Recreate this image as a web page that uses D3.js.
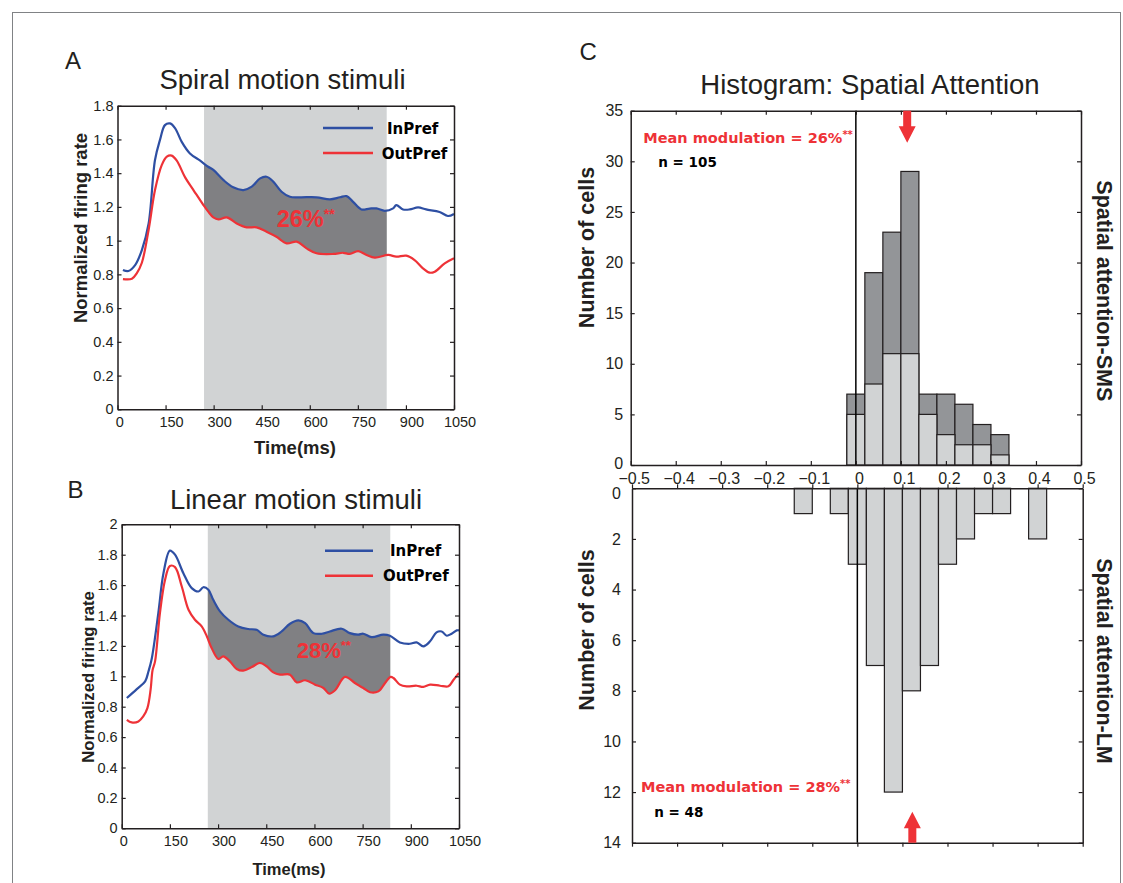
<!DOCTYPE html>
<html><head><meta charset="utf-8">
<script src="https://cdn.jsdelivr.net/npm/d3@7"></script>
<style>body{margin:0;background:#fff}svg{display:block}</style>
</head><body><svg id="c" width="1123" height="883"></svg>
<script>
// ---------- data ----------
const timeTicks = [0,150,300,450,600,750,900,1050];
const rateTicksA = [0,0.2,0.4,0.6,0.8,1,1.2,1.4,1.6,1.8];
const rateTicksB = [0,0.2,0.4,0.6,0.8,1,1.2,1.4,1.6,1.8,2];
const attnWindowA = [270,840];
const attnWindowB = [268,836];
const spiralInPref = [[17,0.826],[34,0.82],[55,0.855],[76,0.944],[97,1.10],[117,1.478],[133,1.60],[148,1.685],[164,1.695],[180,1.666],[200,1.587],[226,1.517],[258,1.474],[283,1.438],[299,1.419],[330,1.36],[361,1.316],[393,1.30],[419,1.32],[445,1.369],[465,1.379],[486,1.35],[512,1.29],[538,1.26],[569,1.257],[621,1.257],[663,1.245],[694,1.257],[715,1.264],[735,1.23],[761,1.185],[787,1.19],[808,1.191],[834,1.177],[860,1.191],[870,1.211],[891,1.185],[912,1.185],[938,1.197],[963,1.185],[1005,1.17],[1031,1.146],[1050,1.158]];
const spiralOutPref = [[17,0.772],[45,0.774],[60,0.806],[76,0.869],[97,1.063],[117,1.30],[138,1.448],[154,1.498],[169,1.504],[185,1.474],[211,1.375],[237,1.30],[268,1.211],[283,1.172],[299,1.138],[315,1.126],[341,1.138],[372,1.102],[403,1.079],[434,1.079],[465,1.053],[496,1.023],[528,0.984],[559,0.994],[590,0.954],[621,0.925],[673,0.921],[704,0.928],[725,0.921],[751,0.938],[777,0.915],[803,0.899],[845,0.915],[870,0.905],[901,0.911],[927,0.885],[953,0.836],[974,0.81],[990,0.816],[1021,0.865],[1050,0.895]];
const linearInPref = [[16,0.857],[47,0.916],[73,0.967],[83,1.03],[93,1.11],[114,1.416],[130,1.678],[150,1.827],[166,1.80],[192,1.678],[218,1.58],[239,1.558],[254,1.586],[270,1.569],[285,1.503],[306,1.427],[332,1.372],[363,1.328],[394,1.311],[420,1.306],[441,1.274],[472,1.263],[498,1.295],[524,1.346],[550,1.368],[571,1.35],[597,1.284],[623,1.28],[648,1.295],[685,1.313],[710,1.284],[736,1.274],[752,1.28],[778,1.258],[814,1.274],[835,1.267],[866,1.223],[897,1.214],[918,1.223],[939,1.197],[960,1.23],[980,1.289],[996,1.295],[1012,1.267],[1027,1.28],[1043,1.302],[1050,1.302]];
const linearOutPref = [[16,0.714],[31,0.697],[52,0.703],[67,0.736],[80,0.791],[90,0.912],[96,1.04],[104,1.10],[119,1.416],[135,1.635],[150,1.726],[166,1.718],[187,1.591],[208,1.438],[228,1.372],[249,1.328],[265,1.263],[280,1.186],[301,1.114],[316,1.131],[337,1.098],[358,1.048],[378,1.037],[405,1.061],[430,1.088],[451,1.066],[472,1.026],[493,1.011],[524,1.011],[545,0.96],[571,0.974],[602,0.945],[628,0.923],[646,0.886],[664,0.908],[695,0.996],[726,0.956],[752,0.923],[773,0.895],[799,0.901],[820,0.956],[837,0.996],[846,0.989],[866,0.945],[887,0.934],[918,0.938],[939,0.930],[960,0.945],[991,0.938],[1017,0.934],[1032,0.974],[1050,1.022]];
const seriesNames = ["InPref","OutPref"];
const spiralEffect = "26%";
const linearEffect = "28%";

const modTicks = [-0.5,-0.4,-0.3,-0.2,-0.1,0,0.1,0.2,0.3,0.4,0.5];
const smsCountTicks = [0,5,10,15,20,25,30,35];
const lmCountTicks = [0,2,4,6,8,10,12,14];
const binWidth = 0.04;
const smsBinCenters = [0,0.04,0.08,0.12,0.16,0.20,0.24,0.28,0.32];
const smsTotal      = [7,19,23,29,7,7,6,4,3];
const smsSubset     = [5,8,11,11,5,3,2,2,1];
const lmBinCenters  = [-0.12,-0.04,0,0.04,0.08,0.12,0.16,0.20,0.24,0.28,0.32,0.40];
const lmCounts      = [1,1,3,7,12,8,7,3,2,1,1,2];
const smsMeanArrow = 0.114;
const lmMeanArrow = 0.122;

// ---------- drawing ----------
const svg = d3.select("#c");
const INK = "#231f20", BLUE = "#2e4fa3", RED = "#ee3237";
const SANS = "'Liberation Sans', Arial, sans-serif";
const HEAVY = "'DejaVu Sans', sans-serif";

svg.append("rect").attr("x",12.5).attr("y",12.5).attr("width",1108).attr("height",900)
  .attr("fill","none").attr("stroke","#808285").attr("stroke-width",1);

function styleAxis(g, fs){
  g.attr("font-family",SANS).attr("font-size",fs);
  g.selectAll(".domain").attr("stroke",INK).attr("stroke-width",1.5);
  g.selectAll(".tick line").attr("stroke",INK).attr("stroke-width",1.2);
  g.selectAll(".tick text").attr("fill",INK);
}
function boxAxes(g, x, y, xt, yt, opts){
  const [x0,x1] = x.range(), [y0,y1] = y.range();
  const fs = opts.fs;
  const b = g.append("g").attr("transform",`translate(0,${y0})`)
    .call(d3.axisBottom(x).tickValues(xt).tickSize(-4).tickSizeOuter(0).tickPadding(opts.bPad)
      .tickFormat(opts.xLabels ? d3.format("~g") : ""));
  styleAxis(b, fs);
  b.selectAll(".tick text").attr("dx", opts.xdx || 0);
  const t = g.append("g").attr("transform",`translate(0,${y1})`)
    .call(d3.axisTop(x).tickValues(xt).tickSize(-4).tickSizeOuter(0).tickFormat(""));
  styleAxis(t, fs);
  const l = g.append("g").attr("transform",`translate(${x0},0)`)
    .call(d3.axisLeft(y).tickValues(yt).tickSize(-4).tickSizeOuter(0).tickPadding(opts.lPad).tickFormat(d3.format("~g")));
  styleAxis(l, fs);
  const r = g.append("g").attr("transform",`translate(${x1},0)`)
    .call(d3.axisRight(y).tickValues(yt).tickSize(-4).tickSizeOuter(0).tickFormat(""));
  styleAxis(r, fs);
  return {b, l};
}

function text(x,y,str,o){
  const t = svg.append("text").attr("x",x).attr("y",y).text(str)
    .attr("font-family",o.ff||SANS).attr("font-size",o.fs).attr("fill",o.fill||INK)
    .attr("font-weight",o.fw||"normal").attr("text-anchor",o.anchor||"start");
  return t;
}
function vtext(cx,cy,str,o,rot){
  svg.append("text").attr("transform",`translate(${cx},${cy}) rotate(${rot})`)
    .attr("text-anchor","middle").attr("dy","0.36em").text(str)
    .attr("font-family",o.ff||SANS).attr("font-size",o.fs).attr("font-weight",o.fw||"bold").attr("fill",INK);
}

function linePanel(cfg){
  const x = d3.scaleLinear().domain([0,1050]).range(cfg.xr);
  const y = d3.scaleLinear().domain([0,cfg.ymax]).range(cfg.yr);
  const g = svg.append("g");
  const id = "clip"+cfg.key;
  g.append("rect").attr("x",x(cfg.win[0])).attr("y",y(cfg.ymax))
    .attr("width",x(cfg.win[1])-x(cfg.win[0])).attr("height",y(0)-y(cfg.ymax)).attr("fill","#d1d3d4");
  const line = d3.line().x(d=>x(d[0])).y(d=>y(d[1])).curve(d3.curveCatmullRom.alpha(0.5));
  svg.append("clipPath").attr("id",id).append("rect")
    .attr("x",x(cfg.win[0])).attr("y",y(cfg.ymax)).attr("width",x(cfg.win[1])-x(cfg.win[0])).attr("height",y(0)-y(cfg.ymax));
  const upper = line(cfg.inP);
  const lower = line(cfg.outP.slice().reverse()).replace(/^M/,"L");
  g.append("path").attr("d",upper+lower+"Z").attr("fill","#808083").attr("clip-path",`url(#${id})`);
  g.append("path").attr("d",line(cfg.inP)).attr("fill","none").attr("stroke",BLUE).attr("stroke-width",2.2);
  g.append("path").attr("d",line(cfg.outP)).attr("fill","none").attr("stroke",RED).attr("stroke-width",2.2);
  const ax = boxAxes(g, x, y, timeTicks, cfg.yt, {fs:14.5, bPad:7, lPad:4, xLabels:true, xdx:5.5});
  ax.b.selectAll(".tick text").filter(d=>d===0).attr("dx",1.7);
  const L = cfg.leg;
  [[BLUE,seriesNames[0],L.y1,L.t1],[RED,seriesNames[1],L.y2,L.t2]].forEach(([c,n,yy,tx])=>{
    g.append("line").attr("x1",L.x0).attr("x2",L.x1).attr("y1",yy).attr("y2",yy).attr("stroke",c).attr("stroke-width",2.4);
    text(tx,yy+5.5,n,{ff:HEAVY,fs:15,fw:"bold",fill:"#000"});
  });
  const t = text(cfg.eff[0],cfg.eff[1],cfg.effText,{fs:cfg.eff[2],fw:"bold",fill:RED});
  t.append("tspan").attr("font-size",cfg.eff[2]*0.6).attr("dy",-cfg.eff[2]*0.36).text("**");
}

linePanel({key:"A", xr:[117.5,454], yr:[409.3,105.7], ymax:1.8, yt:rateTicksA, win:attnWindowA,
  inP:spiralInPref, outP:spiralOutPref, effText:spiralEffect, eff:[276.7,227.3,23.5],
  leg:{x0:323,x1:373,y1:128,y2:153,t1:387,t2:381.7}});
linePanel({key:"B", xr:[121.7,459], yr:[828.3,524.3], ymax:2, yt:rateTicksB, win:attnWindowB,
  inP:linearInPref, outP:linearOutPref, effText:linearEffect, eff:[296.7,658.3,22],
  leg:{x0:325,x1:373,y1:550.7,y2:575.7,t1:390,t2:383}});

text(65,69,"A",{fs:24});
text(67.5,498,"B",{fs:24});
text(579.5,60,"C",{fs:24});
text(282.5,89,"Spiral motion stimuli",{fs:27.5,anchor:"middle"});
text(296,509,"Linear motion stimuli",{fs:27.5,anchor:"middle"});
text(870,94,"Histogram: Spatial Attention",{fs:27.5,anchor:"middle"});
vtext(80,228,"Normalized firing rate",{fs:18.5},-90);
vtext(87.5,677,"Normalized firing rate",{fs:16.7},-90);
text(295,453.5,"Time(ms)",{fs:18.5,fw:"bold",anchor:"middle"});
text(289,875,"Time(ms)",{fs:16.5,fw:"bold",anchor:"middle"});

// ---------- histograms ----------
const xTop = d3.scaleLinear().domain([-0.5,0.5]).range([630.7,1081]);
const yTop = d3.scaleLinear().domain([0,35]).range([465,110.7]);
const xBot = d3.scaleLinear().domain([-0.5,0.5]).range([632,1082.7]);
const yBot = d3.scaleLinear().domain([0,14]).range([488.3,842.7]);
const hg = svg.append("g");
const DARK = "#939598", LIGHT = "#d1d3d4";
function barsUp(vals, fill){
  hg.selectAll(null).data(smsBinCenters.map((c,i)=>[c,vals[i]])).enter().append("rect")
    .attr("x",d=>xTop(d[0]-binWidth/2)).attr("width",d=>xTop(d[0]+binWidth/2)-xTop(d[0]-binWidth/2))
    .attr("y",d=>yTop(d[1])).attr("height",d=>yTop(0)-yTop(d[1]))
    .attr("fill",fill).attr("stroke",INK).attr("stroke-width",1.2);
}
barsUp(smsTotal, DARK);
barsUp(smsSubset, LIGHT);
hg.selectAll(null).data(lmBinCenters.map((c,i)=>[c,lmCounts[i]])).enter().append("rect")
  .attr("x",d=>xBot(d[0]-binWidth/2)).attr("width",d=>xBot(d[0]+binWidth/2)-xBot(d[0]-binWidth/2))
  .attr("y",yBot(0)).attr("height",d=>yBot(d[1])-yBot(0))
  .attr("fill",LIGHT).attr("stroke",INK).attr("stroke-width",1.2);
hg.append("line").attr("x1",xTop(0)).attr("x2",xTop(0)).attr("y1",yTop(35)).attr("y2",yTop(0)).attr("stroke","#000").attr("stroke-width",1.5);
hg.append("line").attr("x1",xBot(0)).attr("x2",xBot(0)).attr("y1",yBot(0)).attr("y2",yBot(14)).attr("stroke","#000").attr("stroke-width",1.5);
const smsAx = boxAxes(hg, xTop, yTop, modTicks, smsCountTicks, {fs:16, bPad:8, lPad:7.5, xLabels:true, xdx:3});
smsAx.l.selectAll(".tick text").filter(d=>d===0).attr("y",-1.5);
const lmAx = boxAxes(hg, xBot, yBot, modTicks, lmCountTicks, {fs:16, bPad:7, lPad:11, xLabels:false});
lmAx.l.selectAll(".tick text").filter(d=>d===0).attr("y",5);

function arrow(xc, yBase, yTip){
  const dir = yTip > yBase ? 1 : -1;
  const headLen = 16.5, hw = 8.5, sw = 4;
  const yh = yTip - dir*headLen;
  const p = d3.path();
  p.moveTo(xc-sw,yBase); p.lineTo(xc+sw,yBase); p.lineTo(xc+sw,yh); p.lineTo(xc+hw,yh);
  p.lineTo(xc,yTip); p.lineTo(xc-hw,yh); p.lineTo(xc-sw,yh); p.closePath();
  hg.append("path").attr("d",p.toString()).attr("fill",RED);
}
arrow(xTop(smsMeanArrow), yTop(35), 142.7);
arrow(xBot(lmMeanArrow), yBot(14), 811.7);

function modText(x,y,pct){
  const t = text(x,y,"Mean modulation = "+pct,{ff:HEAVY,fs:14.5,fw:"bold",fill:RED});
  t.append("tspan").attr("font-size",10).attr("dy",-5).text("**");
}
modText(643.3,143,spiralEffect);
text(658.3,166.5,"n = 105",{ff:HEAVY,fs:13.5,fw:"bold",fill:"#000"});
modText(641,792.3,linearEffect);
text(654.3,817.2,"n = 48",{ff:HEAVY,fs:13.5,fw:"bold",fill:"#000"});

vtext(586,247.5,"Number of cells",{fs:21.5},-90);
vtext(586,630,"Number of cells",{fs:21.5},-90);
vtext(1105,290.8,"Spatial attention-SMS",{fs:21.5},90);
vtext(1105,661,"Spatial attention-LM",{fs:21.5},90);
</script></body></html>
